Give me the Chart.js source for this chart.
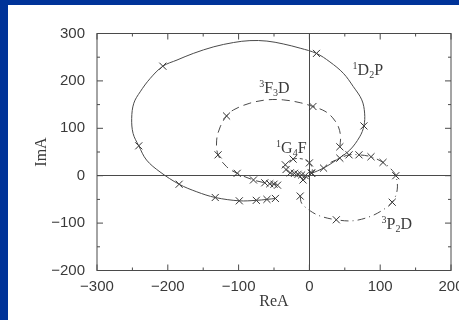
<!DOCTYPE html>
<html>
<head>
<meta charset="utf-8">
<script src="https://cdn.jsdelivr.net/npm/chart.js@4"></script>
<style>
  html, body { margin: 0; padding: 0; width: 459px; height: 320px; overflow: hidden; background: #003399; }
  #panel { position: absolute; left: 8px; top: 5px; width: 480px; height: 315px; background: #fff; }
</style>
</head>
<body>
<div id="panel"><canvas id="chart"></canvas></div>
<script>
// Argand diagram: Re / Im of four partial-wave amplitudes

// 1D2P (solid)
const d2pRe = [3, 20, 38, 57, 71, 77, 78, 74, 62, 48, 29, 10, -13, -37, -60, -84, -107, -135, -164, -187, -207, -225, -239, -248, -251, -249, -241, -230, -211, -184, -159, -133, -99, -75, -60, -48];
const d2pIm = [5, 16, 33, 54, 82, 105, 132, 160, 188, 216, 240, 258, 269, 278, 284, 285, 281, 272, 258, 244, 231, 205, 177, 153, 121, 89, 63, 33, 8, -18, -34, -46, -53, -52, -50, -48];
const d2pMarkRe = [3, 20, 77, 10, -207, -241, -184, -133, -99, -75, -60, -48];
const d2pMarkIm = [5, 16, 105, 258, 231, 63, -18, -46, -53, -52, -50, -48];

// 3F3D (dashed)
const f3dRe = [43, 44, 41, 33, 22, 5, -13, -37, -60, -84, -107, -117, -126, -131, -129, -117, -102, -79, -63, -56, -50, -45];
const f3dIm = [61, 82, 103, 122, 136, 146, 154, 160, 160, 153, 139, 126, 103, 75, 44, 19, 5, -9, -15, -17, -18, -20];
const f3dMarkRe = [43, 5, -117, -129, -102, -79, -63, -56, -50, -45];
const f3dMarkIm = [61, 146, 126, 44, 5, -9, -15, -17, -18, -20];

// 3P2D (dash-dot)
const p2dRe = [-13, -11, 1, 15, 38, 62, 86, 104, 117, 124, 122, 114, 104, 87, 70, 56, 43, 30];
const p2dIm = [-43, -58, -74, -85, -93, -95, -86, -72, -56, -30, 0, 16, 28, 40, 44, 44, 37, 28];
const p2dMarkRe = [-13, 38, 117, 122, 104, 87, 70, 56, 43];
const p2dMarkIm = [-43, -93, -56, 0, 28, 40, 44, 44, 37];

// 1G4F (dotted)
const g4fRe = [-6, -11, -16, -21, -27, -33, -34, -23, -9, 0, 4, 3, -2, -9];
const g4fIm = [0, 1.5, 3, 5, 6, 13, 23, 35, 35, 27, 16, 6, -3, -9];
const g4fMarkRe = [-6, -11, -16, -21, -27, -33, -34, -23, 0, 3, -9];
const g4fMarkIm = [0, 1.5, 3, 5, 6, 13, 23, 35, 27, 6, -9];

const xMin = -300, xMax = 200, yMin = -200, yMax = 300;

// curve names written next to each curve (sup, letter, sub, letter)
const termLabels = [
  { sup: '1', a: 'D', sub: '2', b: 'P', re: 61, im: 212 },
  { sup: '3', a: 'F', sub: '3', b: 'D', re: -71, im: 174 },
  { sup: '1', a: 'G', sub: '4', b: 'F', re: -47, im: 48 },
  { sup: '3', a: 'P', sub: '2', b: 'D', re: 102, im: -113 }
];

const ink = '#3a3a3a';
const lineCol = '#4a4a4a';

const pts = (re, im) => re.map((v, i) => ({ x: v, y: im[i] }));
const fmt = v => (v < 0 ? '\u2212' + (-v) : String(v));

function curve(re, im, dash) {
  return {
    data: pts(re, im),
    showLine: true,
    borderColor: lineCol,
    borderWidth: 1,
    borderDash: dash,
    tension: 0.35,
    pointRadius: 0
  };
}

function marks(re, im) {
  return {
    data: pts(re, im),
    showLine: false,
    pointStyle: 'crossRot',
    pointRadius: 5,
    borderColor: '#333',
    borderWidth: 1
  };
}

const frameTicks = {
  id: 'frameTicks',
  beforeDatasetsDraw(chart) {
    const { ctx, chartArea: a, scales: { x, y } } = chart;
    ctx.save();
    ctx.strokeStyle = lineCol;
    ctx.lineWidth = 1;
    ctx.strokeRect(a.left, a.top, a.right - a.left, a.bottom - a.top);
    ctx.beginPath();
    for (let v = x.min; v <= x.max; v += 50) {
      const px = x.getPixelForValue(v);
      const len = v % 100 === 0 ? 6 : 3;
      ctx.moveTo(px, a.bottom); ctx.lineTo(px, a.bottom - len);
      ctx.moveTo(px, a.top); ctx.lineTo(px, a.top + len);
    }
    for (let v = y.min; v <= y.max; v += 50) {
      const py = y.getPixelForValue(v);
      const len = v % 100 === 0 ? 6 : 3;
      ctx.moveTo(a.left, py); ctx.lineTo(a.left + len, py);
      ctx.moveTo(a.right, py); ctx.lineTo(a.right - len, py);
    }
    ctx.stroke();
    ctx.restore();
  },
  afterDatasetsDraw(chart) {
    const { ctx, scales: { x, y } } = chart;
    const big = '16px "Liberation Serif"';
    const small = '10px "Liberation Serif"';
    ctx.save();
    ctx.fillStyle = ink;
    ctx.textBaseline = 'alphabetic';
    ctx.textAlign = 'left';
    termLabels.forEach(t => {
      let px = x.getPixelForValue(t.re);
      const py = y.getPixelForValue(t.im);
      ctx.font = small;
      ctx.fillText(t.sup, px, py - 6);
      px += ctx.measureText(t.sup).width;
      ctx.font = big;
      ctx.fillText(t.a, px, py);
      px += ctx.measureText(t.a).width;
      ctx.font = small;
      ctx.fillText(t.sub, px, py + 3);
      px += ctx.measureText(t.sub).width;
      ctx.font = big;
      ctx.fillText(t.b, px, py);
    });
    ctx.restore();
  }
};

const tickFont = { family: '"Liberation Sans"', size: 15 };
const titleFont = { family: '"Liberation Serif"', size: 16 };

new Chart(document.getElementById('chart').getContext('2d'), {
  type: 'scatter',
  data: {
    datasets: [
      curve(d2pRe, d2pIm, []),
      curve(f3dRe, f3dIm, [8, 5]),
      curve(p2dRe, p2dIm, [8, 4, 1, 4]),
      curve(g4fRe, g4fIm, [3, 3]),
      marks(d2pMarkRe, d2pMarkIm),
      marks(f3dMarkRe, f3dMarkIm),
      marks(p2dMarkRe, p2dMarkIm),
      marks(g4fMarkRe, g4fMarkIm)
    ]
  },
  options: {
    responsive: true,
    maintainAspectRatio: false,
    animation: false,
    layout: { padding: { left: 0, top: 28.5, right: 37, bottom: 0 } },
    plugins: { legend: { display: false }, tooltip: { enabled: false } },
    scales: {
      x: {
        type: 'linear', min: xMin, max: xMax,
        ticks: { stepSize: 100, padding: 7, color: ink, font: tickFont, callback: fmt, maxRotation: 0 },
        grid: { color: c => (c.tick.value === 0 ? lineCol : 'transparent'), drawTicks: false },
        border: { display: false },
        title: { display: true, text: 'ReA', color: ink, font: titleFont, padding: { top: 2, bottom: 9 } },
        afterFit: s => { s.height = 49.5; }
      },
      y: {
        type: 'linear', min: yMin, max: yMax,
        ticks: { stepSize: 100, padding: 12, color: ink, font: tickFont, callback: fmt },
        grid: { color: c => (c.tick.value === 0 ? lineCol : 'transparent'), drawTicks: false },
        border: { display: false },
        title: { display: true, text: 'ImA', color: ink, font: titleFont, padding: { top: 24, bottom: 0 } },
        afterFit: s => { s.width = 89; }
      }
    }
  },
  plugins: [frameTicks]
});
</script>
</body>
</html>
